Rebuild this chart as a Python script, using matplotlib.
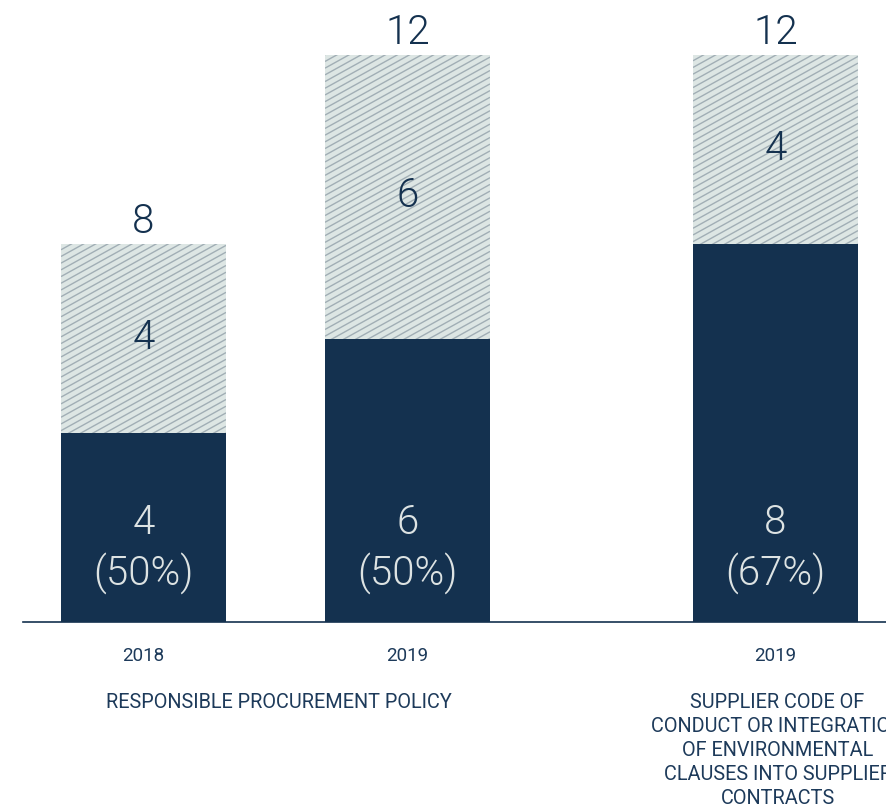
import numpy as np
import matplotlib
matplotlib.use("Agg")
import matplotlib.pyplot as plt
from matplotlib import font_manager as fm
from matplotlib.collections import LineCollection

# Data
years = ["2018", "2019", "2019"]
compliant = [4, 6, 8]
non_compliant = [4, 6, 4]
percent_labels = ["(50%)", "(50%)", "(67%)"]
group_labels = ["RESPONSIBLE PROCUREMENT POLICY",
                "SUPPLIER CODE OF\nCONDUCT OR INTEGRATION\nOF ENVIRONMENTAL\nCLAUSES INTO SUPPLIER\nCONTRACTS"]

NAVY = "#14314f"
HATCH_BG = "#dde6e4"
HATCH_LINE = "#a1aeb5"
LIGHT_TEXT = "#dde3e3"
TEXT = "#1d3a5a"

plt.rcParams['font.family'] = ['Roboto', 'DejaVu Sans']


def light_font(size):
    """Pick a light (weight 300) sans face if one is installed."""
    best = None
    for fam in ("Roboto", "Lato", "Open Sans", "Inter", "Noto Sans"):
        for f in fm.fontManager.ttflist:
            if f.name == fam and f.style == "normal" and f.weight in (300, "light"):
                best = f.fname
                break
        if best:
            break
    if best:
        return fm.FontProperties(fname=best, size=size)
    return fm.FontProperties(family="Roboto", weight="normal", size=size)


W, H = 887, 805
fig = plt.figure(figsize=(W / 100, H / 100), dpi=100)
fig.patch.set_facecolor("white")

# axes: baseline 622 px from top, left edge at 23 px
base_px = 622
ax = fig.add_axes([23 / W, (H - base_px) / H, (W - 23) / W, base_px / H])
unit = 264.0
xpos = np.array([0.0, 1.0, 368.0 / 264.0 + 1.0])
ax.set_xlim(-(143.5 - 23) / unit, (W - 143.5) / unit)
px_per_val = 47.25
ax.set_ylim(0, base_px / px_per_val)
ax.axis("off")
ax.axhline(0, color=NAVY, lw=1.2, clip_on=False, zorder=5)

bw = 165 / unit
ax.bar(xpos, compliant, width=bw, color=NAVY, zorder=2)
totals = [a + b for a, b in zip(compliant, non_compliant)]
top_bars = ax.bar(xpos, non_compliant, bottom=compliant, width=bw,
                  color=HATCH_BG, zorder=2)

# diagonal hatching drawn in display space, clipped to each upper bar
fig.canvas.draw()
slope = np.tan(np.deg2rad(29))
spacing = 6.7
for rect in top_bars:
    (x0, y0), (x1, y1) = ax.transData.transform(
        [(rect.get_x(), rect.get_y()),
         (rect.get_x() + rect.get_width(), rect.get_y() + rect.get_height())])
    segs = []
    c = y0 - slope * (x1 - x0) - spacing
    while c < y1 + spacing:
        segs.append([(x0, c), (x1, c + slope * (x1 - x0))])
        c += spacing
    lc = LineCollection(segs, colors=HATCH_LINE, linewidths=1.0, zorder=3)
    ax.add_collection(lc)
    lc.set_transform(matplotlib.transforms.IdentityTransform())
    lc.set_clip_path(rect)

fp = light_font(29)
for x, c, n, t, p in zip(xpos, compliant, non_compliant, totals, percent_labels):
    ax.text(x, t + 0.47, f"{t}", ha="center", va="center", fontproperties=fp,
            color=NAVY)
    ax.text(x, c + n / 2 + 0.02, f"{n}", ha="center", va="center",
            fontproperties=fp, color=NAVY, zorder=4)
    ax.text(x, (622 - 523) / px_per_val, f"{c}", ha="center", va="center",
            fontproperties=fp, color=LIGHT_TEXT, zorder=4)
    ax.text(x, (622 - 573) / px_per_val, p, ha="center", va="center",
            fontproperties=fp, color=LIGHT_TEXT, zorder=4)

for x, y in zip(xpos, years):
    ax.text(x, -34 / px_per_val, y, ha="center", va="center", fontsize=13.5,
            color=TEXT, clip_on=False)

grp_fs = 14.3
ax.text((xpos[0] + xpos[1]) / 2 + 3 / unit, -80 / px_per_val, group_labels[0],
        ha="center", va="center", fontsize=grp_fs, color=TEXT, clip_on=False)
for i, line in enumerate(group_labels[1].split("\n")):
    ax.text(xpos[2] + 2 / unit, -(80 + 24 * i) / px_per_val, line, ha="center",
            va="center", fontsize=grp_fs, color=TEXT, clip_on=False)

fig.savefig("out.png", dpi=100)
